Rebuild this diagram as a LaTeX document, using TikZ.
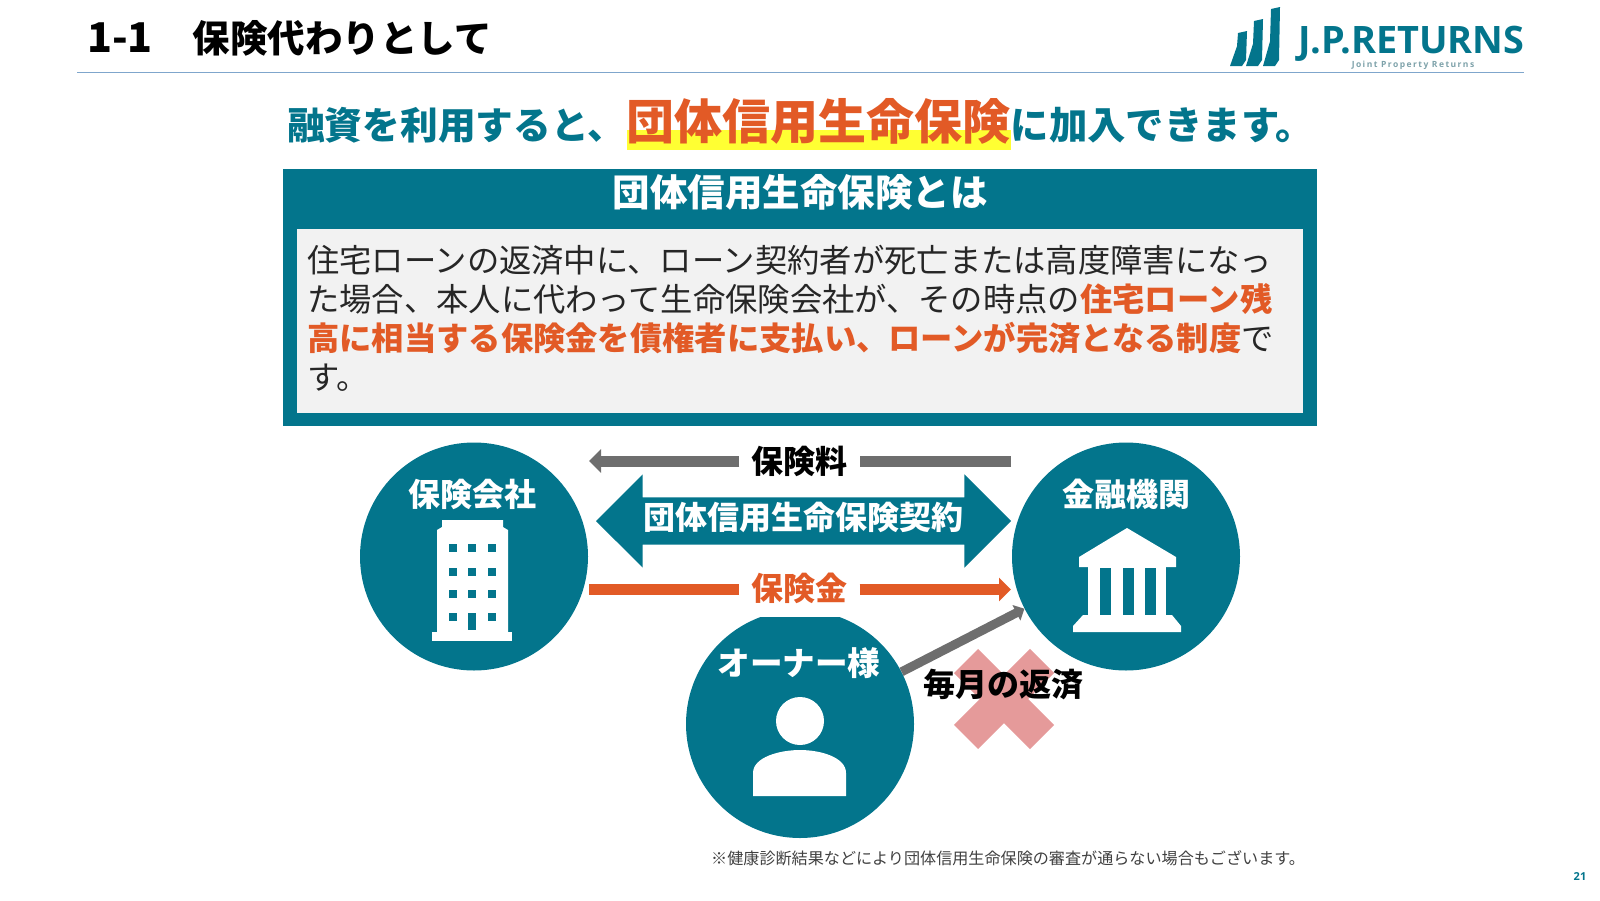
\documentclass[tikz,border=0pt]{standalone}
\usepackage{fontspec}
\setmainfont{Noto Sans CJK JP}
\newfontfamily\logofont{Open Sans}
\newfontfamily\tagfont[LetterSpace=17]{Open Sans}
\usetikzlibrary{positioning,arrows.meta,shapes.arrows}
\definecolor{tealmain}{HTML}{03758C}
\definecolor{orangemain}{HTML}{E25A26}
\definecolor{graymain}{HTML}{6E6E6E}
\definecolor{rulecol}{HTML}{7FA6CC}
\definecolor{panelcol}{HTML}{F2F2F2}
\definecolor{hlcol}{HTML}{FFFF33}
\definecolor{crosscol}{HTML}{E59A9A}
\newcommand{\px}[1]{\fontsize{#1}{#1}\selectfont}
\newcommand{\hot}[1]{\textcolor{orangemain}{\bfseries #1}}
\tikzset{
  disc/.style={circle,fill=tealmain,minimum size=228pt,inner sep=0pt},
  disclabel/.style={text=white,font=\px{32}\bfseries,inner sep=0pt},
  flowlabel/.style={font=\px{32}\bfseries,inner sep=0pt,inner xsep=12pt},
  flow/.style={line width=11pt,-{Triangle[length=12pt,width=23pt]}},
  flowbare/.style={line width=11pt},
  repayflow/.style={line width=9pt,-{Triangle[length=9pt,width=17pt]}},
  icon/.style={fill=white,draw=none},
  hole/.style={fill=tealmain,draw=none}
}
\begin{document}
\begin{tikzpicture}[x=1pt,y=-1pt]
\useasboundingbox (0,0) rectangle (1600,900);
% header
\node (title) [anchor=base west,inner sep=0pt,font=\px{37.5}\bfseries] at (87,52) {{\px{41}1-1}\hspace{40pt}保険代わりとして};
\coordinate (ruleL) at (77,72.5);
\coordinate (ruleR) at (1524,72.5);
\draw[rulecol,line width=1.6pt] (ruleL) -- (ruleR);
% logo
\foreach \xr/\yt in {1247/31,1263/19,1280/7}
  \fill[tealmain] (\xr,\yt) -- (\xr-9,\yt+2) -- (\xr-10,{\yt+(50-\yt)*0.8}) -- (\xr-17,66) -- (\xr-5,66) -- (\xr-1,60) -- cycle;
\node (logo) [anchor=base west,inner sep=0pt,text=tealmain,font=\logofont\px{37.8}\bfseries] at (1298,53.5) {J.P.RETURNS};
\node (tagline) [inner sep=0pt,text=tealmain!45!gray!70,font=\tagfont\px{8.5}\bfseries] at (1413,65.5) {Joint Property Returns};
% headline
\fill[hlcol] (627,130) rectangle (1011,150);
\node (headA) [anchor=base west,inner sep=0pt,text=tealmain,font=\px{37.7}\bfseries] at (287,139) {融資を利用すると、};
\node (headB) [anchor=base west,inner sep=0pt,text=orangemain,font=\px{48}\bfseries] at (626,139) {団体信用生命保険};
\node (headC) [anchor=base west,inner sep=0pt,text=tealmain,font=\px{38.4}\bfseries] at (headB.base east) {に加入できます。};
% panel
\fill[tealmain] (283,169) rectangle (1317,426);
\fill[panelcol] (297,229) rectangle (1303,413);
\node (panelhead) [text=white,inner sep=0pt,font=\px{37.5}\bfseries] at (800,192) {団体信用生命保険とは};
\node (panelbody) [anchor=north west,inner sep=0pt,align=left,font=\fontsize{32.3}{39.2}\selectfont,text=black!85] at (307,244.5) {%
住宅ローンの返済中に、ローン契約者が死亡または高度障害になっ\\
た場合、本人に代わって生命保険会社が、その時点の\hot{住宅ローン残}\\
\hot{高に相当する保険金を債権者に支払い、ローンが完済となる制度}で\\
す。};
% parties
\node (insurer) [disc] at (474,556.5) {};
\node (bank) [disc] at (1126,556.5) {};
\node (owner) [disc] at (800,724) {};
\fill[white] (680,600) rectangle (920,617);
\node (insurerlabel) [disclabel] at (472,494.5) {保険会社};
\node (banklabel) [disclabel] at (1126,494.5) {金融機関};
\node (ownerlabel) [disclabel,font=\px{32.6}\bfseries] at (799,663) {オーナー様};
% building
\fill[icon] (432,632) rectangle (512,641);
\fill[icon] (437,632) -- (437,530) -- (442,527) -- (442,520) -- (503,520) -- (503,527) -- (508,530) -- (508,632) -- cycle;
\foreach \yy in {548,572,594}
  \foreach \xx in {453,472,492}
    \fill[hole] (\xx-4,\yy-4) rectangle (\xx+4,\yy+4);
\foreach \xx in {453,492}
  \fill[hole] (\xx-4,613) rectangle (\xx+4,621);
\fill[hole] (468,613) rectangle (476,630);
% temple
\fill[icon] (1127,528) -- (1176,557) -- (1176,567) -- (1079,567) -- (1079,557) -- cycle;
\fill[icon] (1088,567) rectangle (1166,616);
\foreach \xx in {1100,1123,1145}
  \fill[hole] (\xx,568) rectangle (\xx+11,615);
\fill[icon] (1083,615) -- (1172,615) -- (1181,626) -- (1181,632) -- (1073,632) -- (1073,626) -- cycle;
% person
\fill[icon] (800,721) circle (24);
\fill[icon] (753,796) -- (753,773) .. controls (753,757) and (780,750) .. (800,750) .. controls (820,750) and (846,757) .. (846,773) -- (846,796) -- cycle;
% contract arrow
\node (contract) [double arrow,fill=tealmain,text=white,font=\px{32}\bfseries,inner sep=0pt,inner ysep=7.5pt,
  text height=24pt,text depth=8pt,
  minimum height=415pt,minimum width=93pt,double arrow head extend=23pt] at (803.5,521) {団体信用生命保険契約};
% premium and payout
\node (premium) [flowlabel,text=black] at (799.5,461) {保険料};
\coordinate (premiumL) at (589,461);
\coordinate (premiumR) at (1011,461);
\draw[flowbare,graymain] (premiumR) -- (premium);
\draw[flow,graymain] (premium) -- (premiumL);
\node (payout) [flowlabel,text=orangemain] at (799.5,588) {保険金};
\coordinate (payoutL) at (589,589.5);
\coordinate (payoutR) at (1011,589.5);
\draw[flowbare,orangemain] (payoutL) -- (payoutL-|payout.west);
\draw[flow,orangemain] (payoutR-|payout.east) -- (payoutR);
% repayment
\coordinate (crossA) at (966,661);
\coordinate (crossB) at (1042,737);
\coordinate (crossC) at (1042,661);
\coordinate (crossD) at (966,737);
\draw[crosscol,line width=34pt] (crossA) -- (crossB);
\draw[crosscol,line width=34pt] (crossC) -- (crossD);
\draw[repayflow,graymain] (owner) -- (bank);
\node (repay) [inner sep=0pt,font=\px{32}\bfseries] at (1003,684) {毎月の返済};
% footer
\node (note) [anchor=west,inner sep=0pt,text=black!75,font=\px{16.1}] at (711,858) {※健康診断結果などにより団体信用生命保険の審査が通らない場合もございます。};
\node (pageno) [inner sep=0pt,text=tealmain,font=\logofont\px{11}\bfseries] at (1580,877) {21};
\end{tikzpicture}
\end{document}
